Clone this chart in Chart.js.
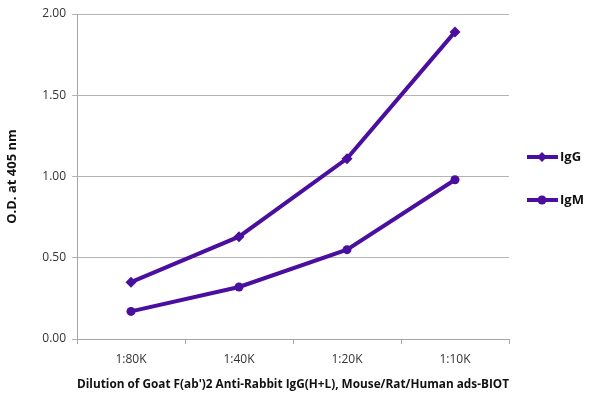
<!DOCTYPE html>
<html>
<head>
<meta charset="utf-8">
<script src="https://cdn.jsdelivr.net/npm/chart.js@4"></script>
<style>
  html, body { margin: 0; padding: 0; background: #fff; }
  #wrap { width: 600px; height: 404px; }
</style>
</head>
<body>
<div id="wrap"><canvas id="c"></canvas></div>
<script>
const dilutions = ['1:80K', '1:40K', '1:20K', '1:10K'];
const igG = [0.35, 0.63, 1.11, 1.89];
const igM = [0.17, 0.32, 0.55, 0.98];
const seriesNames = ['IgG', 'IgM'];
const yTitle = 'O.D. at 405 nm';
const xTitle = "Dilution of Goat F(ab')2 Anti-Rabbit IgG(H+L), Mouse/Rat/Human ads-BIOT";

const purple = '#4b0f9f';
const fontFam = '"Open Sans", "Liberation Sans", sans-serif';

// legend on the right, drawn by hand so it looks like the original
const sideLegend = {
  id: 'sideLegend',
  afterDraw(chart) {
    const ctx = chart.ctx;
    const rows = [157, 200];
    chart.data.datasets.forEach((ds, i) => {
      const y = rows[i];
      ctx.save();
      ctx.strokeStyle = ds.borderColor;
      ctx.lineWidth = 4;
      ctx.beginPath();
      ctx.moveTo(527, y);
      ctx.lineTo(558, y);
      ctx.stroke();
      ctx.fillStyle = ds.borderColor;
      ctx.beginPath();
      if (ds.pointStyle === 'rectRot') {
        ctx.moveTo(542, y - 5); ctx.lineTo(547, y); ctx.lineTo(542, y + 5); ctx.lineTo(537, y);
      } else {
        ctx.arc(542, y, 4.5, 0, Math.PI * 2);
      }
      ctx.fill();
      ctx.fillStyle = '#111';
      ctx.font = 'bold 13px ' + fontFam;
      ctx.textBaseline = 'middle';
      ctx.fillText(ds.label, 560, y);
      ctx.restore();
    });
  }
};

new Chart(document.getElementById('c'), {
  type: 'line',
  data: {
    labels: dilutions,
    datasets: [
      { label: seriesNames[0], data: igG, borderColor: purple, backgroundColor: purple,
        borderWidth: 4, pointStyle: 'rectRot', pointRadius: 5.5, pointBorderWidth: 0, tension: 0 },
      { label: seriesNames[1], data: igM, borderColor: purple, backgroundColor: purple,
        borderWidth: 4, pointStyle: 'circle', pointRadius: 4.5, pointBorderWidth: 0, tension: 0 }
    ]
  },
  options: {
    responsive: true,
    maintainAspectRatio: false,
    animation: false,
    layout: { padding: { top: 14, right: 91, left: 0, bottom: 0 } },
    plugins: { legend: { display: false }, tooltip: { enabled: false } },
    scales: {
      x: {
        offset: true,
        grid: { offset: true, drawOnChartArea: false, tickLength: 5, color: '#a6a6a6' },
        border: { color: '#a6a6a6' },
        ticks: { color: '#333', font: { family: fontFam, size: 12 }, padding: 8 },
        title: { display: true, text: xTitle, color: '#111',
          font: { family: fontFam, size: 13, weight: 'bold' }, padding: { top: 0, bottom: 12 } },
        afterFit(s) { s.height = 65; }
      },
      y: {
        min: 0, max: 2,
        ticks: { stepSize: 0.5, color: '#333', font: { family: fontFam, size: 12 }, padding: 6,
          callback: v => v.toFixed(2) },
        grid: { color: '#b4b4b4', tickLength: 5 },
        border: { color: '#a6a6a6' },
        title: { display: true, text: yTitle, color: '#111',
          font: { family: fontFam, size: 13, weight: 'bold' }, padding: { bottom: 4 } },
        afterFit(s) { s.width = 77; }
      }
    }
  },
  plugins: [sideLegend]
});
</script>
</body>
</html>
